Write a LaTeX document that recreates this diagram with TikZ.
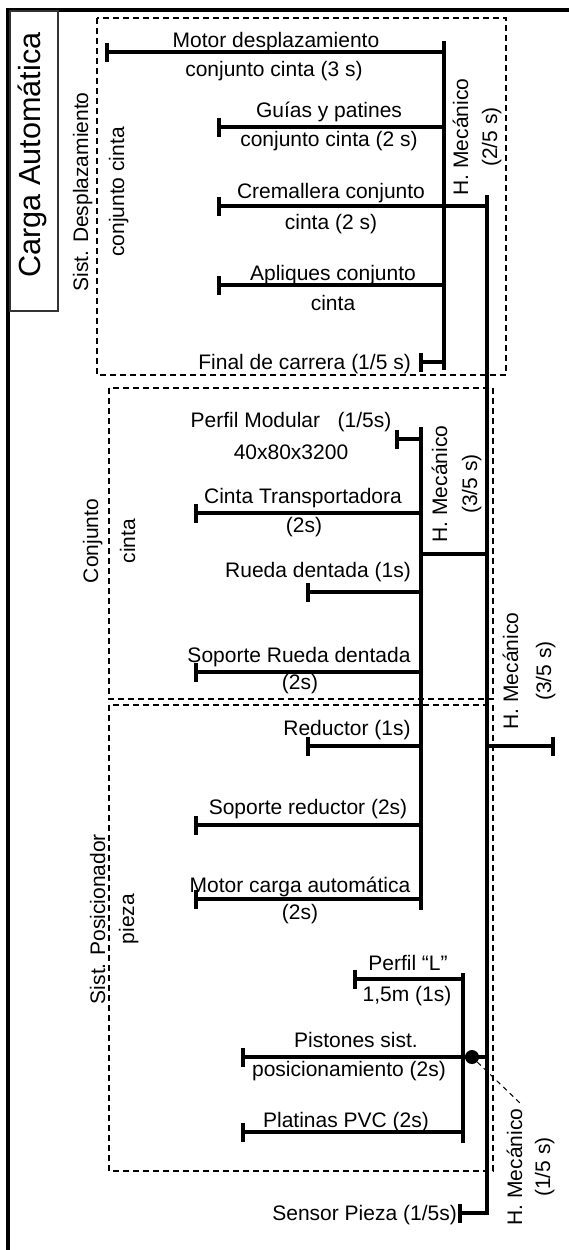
\documentclass[tikz,border=0pt]{standalone}
\usepackage{fontspec}
\setmainfont{Liberation Sans}
\usetikzlibrary{calc}
\begin{document}
\begin{tikzpicture}[x=1pt,y=-1pt,
  bus/.style={line width=4pt},
  frame/.style={line width=3.5pt, line join=miter},
  grp/.style={line width=1.3pt, dash pattern=on 6pt off 4pt},
  lbl/.style={inner sep=0pt, font=\fontsize{21}{25}\selectfont, anchor=base},
  lblr/.style={lbl, anchor=base east},
  vlbl/.style={lbl, rotate=90},
  tickbar/.pic={\draw[line width=4pt] (0,-9.5) -- (0,9.5);}
]
\useasboundingbox (0,0) rectangle (569,1250);

% outer frame
\draw[frame] (8,1252) -- (8,10) -- (571,10);
\node[draw=black!80, line width=1.2pt, minimum width=48pt, minimum height=300pt, inner sep=0pt] (title) at (34,161) {};
\node[vlbl, font=\fontsize{30.6}{34}\selectfont] (titletxt) at (40,155) {Carga Automática};

% group boxes
\draw[grp] (97,18) rectangle (506,375);
\draw[grp] (109,388) rectangle (493,699);
\draw[grp] (109,705) rectangle (493,1171);

\node[vlbl] (g1a) at (88,192) {Sist. Desplazamiento};
\node[vlbl] (g1b) at (124,192) {conjunto cinta};
\node[vlbl] (g2a) at (98,541) {Conjunto};
\node[vlbl] (g2b) at (135,541) {cinta};
\node[vlbl] (g3a) at (105,919) {Sist. Posicionador};
\node[vlbl] (g3b) at (134,919) {pieza};

% buses
\coordinate (b1t) at (444,41);  \coordinate (b1b) at (444,370);
\coordinate (b0t) at (487,195); \coordinate (b0b) at (487,1215);
\coordinate (b2t) at (421,427); \coordinate (b2b) at (421,910);
\coordinate (b3t) at (463,973); \coordinate (b3b) at (463,1143);
\draw[bus] (b1t) -- (b1b);
\draw[bus] (b0t) -- (b0b);
\draw[bus] (b2t) -- (b2b);
\draw[bus] (b3t) -- (b3b);

% bus 1 branches
\coordinate (m1) at (107,52);
\coordinate (gp1) at (219,127);
\coordinate (cr1) at (219,206);
\coordinate (ap1) at (219,285);
\coordinate (fc1) at (421,362);
\draw[bus] (m1) -- (m1 -| b1t);   \pic at (m1) {tickbar};
\draw[bus] (gp1) -- (gp1 -| b1t); \pic at (gp1) {tickbar};
\draw[bus] (cr1) -- (cr1 -| b0t); \pic at (cr1) {tickbar};
\draw[bus] (ap1) -- (ap1 -| b1t); \pic at (ap1) {tickbar};
\draw[bus] (fc1) -- (fc1 -| b1t); \pic at (fc1) {tickbar};

\node[lbl] (t1a) at (276,47) {Motor desplazamiento};
\node[lbl] (t1b) at (274,76) {conjunto cinta (3 s)};
\node[lbl] (t2a) at (329,117) {Guías y patines};
\node[lbl] (t2b) at (329,146) {conjunto cinta (2 s)};
\node[lbl] (t3a) at (331,198) {Cremallera conjunto};
\node[lbl] (t3b) at (331,229) {cinta (2 s)};
\node[lbl] (t4a) at (333,280) {Apliques conjunto};
\node[lbl] (t4b) at (333,310) {cinta};
\node[lblr] (t5) at (411,369) {Final de carrera (1/5 s)};
\node[vlbl] (h1a) at (468,137) {H. Mecánico};
\node[vlbl] (h1b) at (497,137) {(2/5 s)};

% bus 2 branches
\coordinate (pm2) at (397,439);
\coordinate (ct2) at (196,513);
\coordinate (jn2) at (421,554);
\coordinate (rd2) at (308,592);
\coordinate (sr2) at (196,672);
\coordinate (re2) at (308,746);
\coordinate (so2) at (196,825);
\coordinate (mc2) at (196,899);
\draw[bus] (pm2) -- (pm2 -| b2t); \pic at (pm2) {tickbar};
\draw[bus] (ct2) -- (ct2 -| b2t); \pic at (ct2) {tickbar};
\draw[bus] (jn2) -- (jn2 -| b0t);
\draw[bus] (rd2) -- (rd2 -| b2t); \pic at (rd2) {tickbar};
\draw[bus] (sr2) -- (sr2 -| b2t); \pic at (sr2) {tickbar};
\draw[bus] (re2) -- (re2 -| b2t); \pic at (re2) {tickbar};
\draw[bus] (so2) -- (so2 -| b2t); \pic at (so2) {tickbar};
\draw[bus] (mc2) -- (mc2 -| b2t); \pic at (mc2) {tickbar};

\node[lbl] (u1a) at (291,427) {Perfil Modular\ \ \ (1/5s)};
\node[lbl] (u1b) at (291,459) {40x80x3200};
\node[lbl] (u2a) at (303,503) {Cinta Transportadora};
\node[lbl] (u2b) at (304,532) {(2s)};
\node[lbl] (u3) at (318,577) {Rueda dentada (1s)};
\node[lbl] (u4a) at (299,662) {Soporte Rueda dentada};
\node[lbl] (u4b) at (300,689) {(2s)};
\node[lbl] (u5) at (347,735) {Reductor (1s)};
\node[lbl] (u6) at (308,814) {Soporte reductor (2s)};
\node[lbl] (u7a) at (300,892) {Motor carga automática};
\node[lbl] (u7b) at (300,919) {(2s)};
\node[vlbl] (h2a) at (447,484) {H. Mecánico};
\node[vlbl] (h2b) at (477,484) {(3/5 s)};

% main bus side branch
\coordinate (mb) at (553,746);
\draw[bus] (mb -| b0t) -- (mb); \pic at (mb) {tickbar};
\node[vlbl] (h0a) at (518,671) {H. Mecánico};
\node[vlbl] (h0b) at (551,671) {(3/5 s)};

% bus 3 branches
\coordinate (pl3) at (355,979);
\coordinate (ps3) at (243,1057);
\coordinate (pv3) at (243,1132);
\coordinate (sp0) at (460,1213);
\draw[bus] (pl3) -- (pl3 -| b3t); \pic at (pl3) {tickbar};
\draw[bus] (ps3) -- (ps3 -| b0t); \pic at (ps3) {tickbar};
\draw[bus] (pv3) -- (pv3 -| b3t); \pic at (pv3) {tickbar};
\draw[bus] (sp0) -- (sp0 -| b0t); \pic at (sp0) {tickbar};

\node[circle, fill, inner sep=0pt, minimum size=14pt] (dot) at (472,1057) {};
\coordinate (leadEnd) at (521,1104);
\draw[line width=1pt, dash pattern=on 5pt off 4pt] (dot) -- (leadEnd);

\node[lbl] (v1a) at (408,970) {Perfil “L”};
\node[lbl] (v1b) at (407,1001) {1,5m (1s)};
\node[lbl] (v2a) at (356,1047) {Pistones sist.};
\node[lbl] (v2b) at (349,1076) {posicionamiento (2s)};
\node[lbl] (v3) at (346,1127) {Platinas PVC (2s)};
\node[lblr] (v4) at (457,1220) {Sensor Pieza (1/5s)};
\node[vlbl] (h3a) at (522,1167) {H. Mecánico};
\node[vlbl] (h3b) at (550,1167) {(1/5 s)};
\end{tikzpicture}
\end{document}
